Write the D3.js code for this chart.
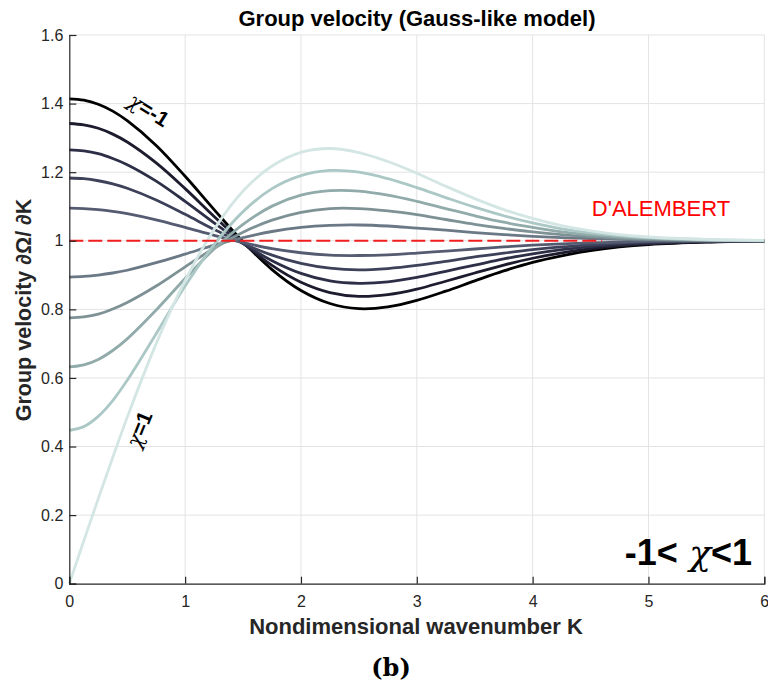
<!DOCTYPE html>
<html>
<head>
<meta charset="utf-8">
<script src="https://cdn.jsdelivr.net/npm/d3@7"></script>
<style>
  html, body { margin: 0; padding: 0; background: #fff; }
  svg { display: block; }
</style>
</head>
<body>
<svg id="chart" width="768" height="686"></svg>
<script>
// ---------------- DATA ----------------
const waveK = [0, 0.125, 0.25, 0.375, 0.5, 0.75, 1, 1.25, 1.5, 1.75, 2, 2.25, 2.5, 2.75, 3, 3.25, 3.5, 3.75, 4, 4.25, 4.5, 4.75, 5, 5.5, 6];
const chiValues = [-1, -0.8, -0.6, -0.4, -0.2, 0.2, 0.4, 0.6, 0.8, 1];

const vgChiM10 = [1.414,1.410,1.398,1.378,1.350,1.278,1.188,1.091,0.997,0.916,0.855,0.817,0.802,0.807,0.826,0.853,0.883,0.912,0.937,0.956,0.971,0.982,0.989,0.996,0.999];
const vgChiM08 = [1.342,1.338,1.328,1.311,1.288,1.227,1.152,1.071,0.994,0.928,0.879,0.849,0.838,0.843,0.859,0.882,0.906,0.929,0.949,0.965,0.977,0.985,0.991,0.997,0.999];
const vgChiM06 = [1.265,1.262,1.254,1.240,1.222,1.174,1.115,1.052,0.992,0.942,0.905,0.883,0.876,0.880,0.893,0.911,0.929,0.947,0.962,0.974,0.983,0.989,0.993,0.998,0.999];
const vgChiM04 = [1.183,1.181,1.175,1.166,1.153,1.119,1.077,1.033,0.992,0.958,0.934,0.920,0.915,0.919,0.928,0.940,0.953,0.964,0.974,0.982,0.988,0.993,0.996,0.999,1.000];
const vgChiM02 = [1.095,1.094,1.091,1.086,1.079,1.061,1.039,1.016,0.995,0.977,0.965,0.958,0.957,0.959,0.964,0.970,0.976,0.982,0.987,0.991,0.994,0.996,0.998,0.999,1.000];
const vgChiP02 = [0.894,0.896,0.900,0.906,0.914,0.936,0.961,0.987,1.009,1.027,1.039,1.045,1.046,1.043,1.037,1.031,1.024,1.018,1.013,1.009,1.006,1.004,1.002,1.001,1.000];
const vgChiP04 = [0.775,0.778,0.786,0.801,0.820,0.868,0.924,0.978,1.025,1.060,1.083,1.094,1.094,1.087,1.076,1.062,1.048,1.036,1.026,1.018,1.012,1.007,1.004,1.001,1.000];
const vgChiP06 = [0.632,0.638,0.654,0.680,0.714,0.798,0.890,0.976,1.048,1.101,1.133,1.146,1.145,1.133,1.115,1.094,1.073,1.054,1.039,1.026,1.017,1.011,1.007,1.002,1.001];
const vgChiP08 = [0.447,0.458,0.488,0.534,0.593,0.729,0.868,0.989,1.085,1.152,1.190,1.205,1.200,1.181,1.155,1.126,1.098,1.073,1.052,1.035,1.023,1.015,1.009,1.003,1.001];
const vgChiP10 = [0.000,0.125,0.248,0.368,0.485,0.700,0.884,1.033,1.145,1.218,1.258,1.269,1.257,1.231,1.197,1.159,1.123,1.091,1.065,1.044,1.029,1.018,1.011,1.004,1.001];

const dalembertK = [0, 4.6];
const dalembertV = [1, 1];

const xTicks = [0, 1, 2, 3, 4, 5, 6];
const yTicks = [0, 0.2, 0.4, 0.6, 0.8, 1, 1.2, 1.4, 1.6];

// ---------------- STYLE ----------------
const curveColors = ["#000000", "#1c1c2e", "#2d2f47", "#3d4159", "#555c72", "#6b7886", "#7e9296", "#91aaaa", "#abc8c6", "#d3e6e4"];

const allSeries = [vgChiM10, vgChiM08, vgChiM06, vgChiM04, vgChiM02, vgChiP02, vgChiP04, vgChiP06, vgChiP08, vgChiP10]
  .map((vals, i) => ({ chi: chiValues[i], points: waveK.map((k, j) => [k, vals[j]]) }));

const svg = d3.select("#chart");
const plotL = 69.3, plotR = 764.3, plotT = 35, plotB = 583.7;
const x = d3.scaleLinear().domain([0, 6]).range([plotL, plotR]);
const y = d3.scaleLinear().domain([0, 1.6]).range([plotB, plotT]);

// grid
const grid = svg.append("g");
grid.selectAll("line.gx").data(xTicks.filter(d => d > 0)).join("line")
  .attr("x1", d => x(d)).attr("x2", d => x(d)).attr("y1", plotT).attr("y2", plotB)
  .attr("stroke", "#e3e3e3").attr("stroke-width", 1);
grid.selectAll("line.gy").data(yTicks.filter(d => d > 0)).join("line")
  .attr("y1", d => y(d)).attr("y2", d => y(d)).attr("x1", plotL).attr("x2", plotR)
  .attr("stroke", "#e3e3e3").attr("stroke-width", 1);

// curves
const line = d3.line().x(d => x(d[0])).y(d => y(d[1])).curve(d3.curveCatmullRom.alpha(0.5));
svg.append("g").selectAll("path").data(allSeries).join("path")
  .attr("d", d => line(d.points))
  .attr("fill", "none")
  .attr("stroke", (d, i) => curveColors[i])
  .attr("stroke-width", 2.8)
  .attr("stroke-linejoin", "round");

// D'Alembert dashed line
svg.append("path")
  .attr("d", d3.line().x(d => x(d[0])).y(d => y(d[1]))(dalembertK.map((k, i) => [k, dalembertV[i]])))
  .attr("fill", "none").attr("stroke", "#f01e1e").attr("stroke-width", 2)
  .attr("stroke-dasharray", "14,5");

// axes
const xAxis = d3.axisBottom(x).tickValues(xTicks).tickSize(-7).tickPadding(12).tickFormat(d3.format("d"));
const yAxis = d3.axisLeft(y).tickValues(yTicks).tickSize(-7).tickPadding(6).tickFormat(d => d === 0 || d === 1 ? String(d) : d3.format(".1f")(d));

const gx = svg.append("g").attr("transform", `translate(0,${plotB})`).call(xAxis);
const gy = svg.append("g").attr("transform", `translate(${plotL},0)`).call(yAxis);
[gx, gy].forEach(g => {
  g.select(".domain").attr("stroke", "#262626").attr("stroke-width", 1.2);
  g.selectAll(".tick line").attr("stroke", "#262626").attr("stroke-width", 1.2);
  g.selectAll(".tick text").attr("fill", "#262626").style("font-family", "'Liberation Sans', Arial, sans-serif").style("font-size", "16px");
});

// title & axis labels
svg.append("text").attr("x", 417).attr("y", 26).attr("text-anchor", "middle")
  .style("font-family", "'Liberation Sans', Arial, sans-serif").style("font-weight", "bold").style("font-size", "22px")
  .attr("fill", "#000").text("Group velocity (Gauss-like model)");

svg.append("text").attr("x", 416).attr("y", 634).attr("text-anchor", "middle")
  .style("font-family", "'Liberation Sans', Arial, sans-serif").style("font-weight", "bold").style("font-size", "22px")
  .attr("fill", "#262626").text("Nondimensional wavenumber K");

svg.append("text").attr("transform", "translate(31,310) rotate(-90)").attr("text-anchor", "middle")
  .style("font-family", "'Liberation Sans', Arial, sans-serif").style("font-weight", "bold").style("font-size", "21.5px")
  .attr("fill", "#262626").text("Group velocity \u2202\u03A9/ \u2202K");

// annotations
svg.append("text").attr("x", 661).attr("y", 216).attr("text-anchor", "middle")
  .style("font-family", "'Liberation Sans', Arial, sans-serif").style("font-size", "22px")
  .attr("fill", "#ff0000").text("D'ALEMBERT");

const rangeLbl = svg.append("text").attr("x", 752).attr("y", 565).attr("text-anchor", "end")
  .style("font-family", "'Liberation Sans', Arial, sans-serif").style("font-weight", "bold").style("font-size", "36px")
  .attr("fill", "#000");
rangeLbl.append("tspan").text("-1<");
rangeLbl.append("tspan").style("font-family", "'DejaVu Serif', 'Liberation Serif', serif").style("font-style", "italic").style("font-weight", "normal").text(" \u03C7");
rangeLbl.append("tspan").text("<1");

const lbl1 = svg.append("text").attr("transform", "translate(145,116) rotate(32)").attr("text-anchor", "middle")
  .style("font-family", "'Liberation Sans', Arial, sans-serif").style("font-weight", "bold").style("font-size", "21px").attr("fill", "#000");
lbl1.append("tspan").style("font-family", "'DejaVu Serif', 'Liberation Serif', serif").style("font-style", "italic").style("font-weight", "normal").text("\u03C7");
lbl1.append("tspan").text("=-1");

const lbl2 = svg.append("text").attr("transform", "translate(146,432) rotate(-68)").attr("text-anchor", "middle")
  .style("font-family", "'Liberation Sans', Arial, sans-serif").style("font-weight", "bold").style("font-size", "21px").attr("fill", "#000");
lbl2.append("tspan").style("font-family", "'DejaVu Serif', 'Liberation Serif', serif").style("font-style", "italic").style("font-weight", "normal").text("\u03C7");
lbl2.append("tspan").text("=1");

svg.append("text").attr("x", 391).attr("y", 676).attr("text-anchor", "middle")
  .style("font-family", "'DejaVu Serif', 'Liberation Serif', serif").style("font-weight", "bold").style("font-size", "24px")
  .attr("fill", "#000").text("(b)");
</script>
</body>
</html>
